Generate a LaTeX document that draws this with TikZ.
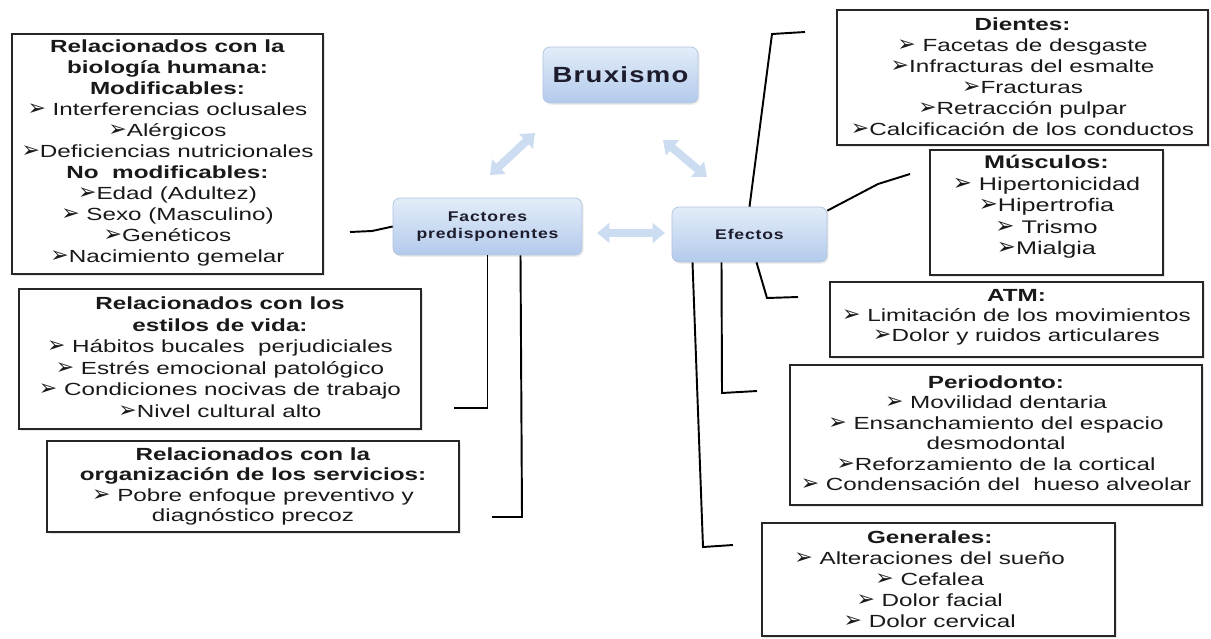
\documentclass[tikz,border=0pt]{standalone}
\usepackage{fontspec}
\setmainfont[FakeStretch=1.38]{Liberation Sans}
\newfontfamily\dvsans{DejaVu Sans}
\newfontfamily\nodefnt[FakeStretch=1.25,LetterSpace=6]{Liberation Sans}
\usetikzlibrary{arrows.meta,fit,calc,shadows}
\newcommand\arr{\smash{{\dvsans\scalebox{1.25}{\char"27A2}}}}
\definecolor{nodetop}{HTML}{E3EDF9}
\definecolor{nodebot}{HTML}{B3CAEC}
\definecolor{nodeedge}{HTML}{AFC3DE}
\definecolor{arrblue}{HTML}{CCDCF1}
\definecolor{ink}{HTML}{1C1C2C}
\tikzset{
  box/.style={draw=black!85, line width=1.2pt, fill=white, inner sep=0pt,
    drop shadow={opacity=0.2, shadow xshift=1.2pt, shadow yshift=-1.2pt}},
  boxtext/.style={inner sep=0pt, align=center, text=black!90,
    font=\fontsize{10}{11.9}\selectfont},
  bluenode/.style={rounded corners=4pt, draw=nodeedge, top color=nodetop, bottom color=nodebot,
    align=center, inner sep=0pt, text=ink,
    drop shadow={opacity=0.15, shadow xshift=1pt, shadow yshift=-1pt}},
  link/.style={draw=black, line width=1.1pt},
  fat/.style={draw=arrblue, line width=4.6pt, {Triangle[width=11pt,length=7pt]}-{Triangle[width=11pt,length=7pt]}}
}
\begin{document}
\begin{tikzpicture}[x=0.02cm,y=-0.02cm]
\useasboundingbox (0,0) rectangle (1211,639);
\fill[white] (0,0) rectangle (1211,639);

% central nodes
\node[bluenode, minimum width=3.1cm, minimum height=1.12cm,
  font=\nodefnt\bfseries\fontsize{12.5}{14}\selectfont] (bru) at (620.5,75) {Bruxismo};
\node[bluenode, minimum width=3.78cm, minimum height=1.14cm,
  font=\nodefnt\bfseries\fontsize{8}{10}\selectfont] (fac) at (487.5,226.5) {Factores\\predisponentes};
\node[bluenode, minimum width=3.1cm, minimum height=1.1cm,
  font=\nodefnt\bfseries\fontsize{8}{10}\selectfont] (ef) at (749.5,234.5) {Efectos};

% fat arrows
\coordinate (a1s) at (535,133); \coordinate (a1e) at (490,175);
\coordinate (a2s) at (663,140); \coordinate (a2e) at (707,177);
\coordinate (a3s) at (597,233); \coordinate (a3e) at (665,233);
\draw[fat] (a1s) -- (a1e);
\draw[fat] (a2s) -- (a2e);
\draw[fat] (a3s) -- (a3e);

% left boxes
\node[box, fit={(12,34) (323,274)}] (bio) {};
\node[boxtext] (bioT) at ([yshift=0.6pt]bio.center) {%
\textbf{Relacionados con la}\\\textbf{biología humana:}\\\textbf{Modificables:}\\
\arr\ Interferencias oclusales\\\arr Alérgicos\\\arr Deficiencias nutricionales\\
\textbf{No\ \ modificables:}\\\arr Edad (Adultez)\\\arr\ Sexo (Masculino)\\\arr Genéticos\\\arr Nacimiento gemelar};
\node[box, fit={(19,289) (421,429)}] (life) {};
\node[boxtext, font=\fontsize{10}{12.2}\selectfont] (lifeT) at ([yshift=1pt]life.center) {%
\textbf{Relacionados con los}\\\textbf{estilos de vida:}\\
\arr\ Hábitos bucales\ \ perjudiciales\\\arr\ Estrés emocional patológico\\
\arr\ Condiciones nocivas de trabajo\\\arr Nivel cultural alto};
\node[box, fit={(47,441) (459,532)}] (serv) {};
\node[boxtext, font=\fontsize{10}{11.5}\selectfont] (servT) at (serv.center) {%
\textbf{Relacionados con la}\\\textbf{organización de los servicios:}\\
\arr\ Pobre enfoque preventivo y\\diagnóstico precoz};

% right boxes
\node[box, fit={(837,10) (1208,145)}] (dien) {};
\node[boxtext, font=\fontsize{10}{11.9}\selectfont] (dienT) at ([yshift=0.5pt]dien.center) {%
\textbf{Dientes:}\\\arr\ Facetas de desgaste\\\arr Infracturas del esmalte\\\arr Fracturas\\
\arr Retracción pulpar\\\arr Calcificación de los conductos};
\node[box, fit={(930,150) (1163,275)}] (musc) {};
\node[boxtext, font=\fontsize{10.4}{12.3}\selectfont] (muscT) at ([yshift=3.2pt]musc.center) {%
\textbf{Músculos:}\\\arr\ Hipertonicidad\\\arr Hipertrofia\\\arr\ Trismo\\\arr Mialgia};
\node[box, fit={(830,282) (1203,357)}] (atm) {};
\node[boxtext, font=\fontsize{10}{11.3}\selectfont] (atmT) at ([yshift=1.4pt]atm.center) {%
\textbf{ATM:}\\\arr\ Limitación de los movimientos\\\arr Dolor y ruidos articulares};
\node[box, fit={(790,365) (1202,505)}] (perio) {};
\node[boxtext, font=\fontsize{10}{11.6}\selectfont] (perioT) at ([yshift=1pt]perio.center) {%
\textbf{Periodonto:}\\\arr\ Movilidad dentaria\\\arr\ Ensanchamiento del espacio\\desmodontal\\
\arr Reforzamiento de la cortical\\\arr\ Condensación del\ \ hueso alveolar};
\node[box, fit={(762,523) (1115,636)}] (gen) {};
\node[boxtext, font=\fontsize{10}{11.9}\selectfont] (genT) at ([xshift=-5pt]gen.center) {%
\textbf{Generales:}\\\arr\ Alteraciones del sueño\\\arr\ Cefalea\\\arr\ Dolor facial\\\arr\ Dolor cervical};

% connectors from Factores
\coordinate (fl) at (350,232);
\draw[link] (fac.west) -- (372,231) -- (fl);
\coordinate (fv1) at (454,408);
\draw[link] (fac.south) -- (fac.south |- fv1) -- (fv1);
\coordinate (fv2) at (492,517);
\draw[link] ($(fac.south)+(33,0)$) -- (522,517) -- (fv2);

% connectors from Efectos
\coordinate (e1) at (805,32);
\draw[link] (ef.north) -- (772,34) -- (e1);
\coordinate (e2) at (910,174);
\draw[link] ($(ef.north east)+(0,4)$) -- (878,184) -- (e2);
\coordinate (e3) at (798,297);
\draw[link] ($(ef.south)+(7,0)$) -- (767,298) -- (e3);
\coordinate (e4) at (757,391);
\draw[link] ($(ef.south)+(-28,0)$) -- (722,393) -- (e4);
\coordinate (e5) at (733,545);
\draw[link] ($(ef.south)+(-57,0)$) -- (703,547) -- (e5);
\end{tikzpicture}
\end{document}
